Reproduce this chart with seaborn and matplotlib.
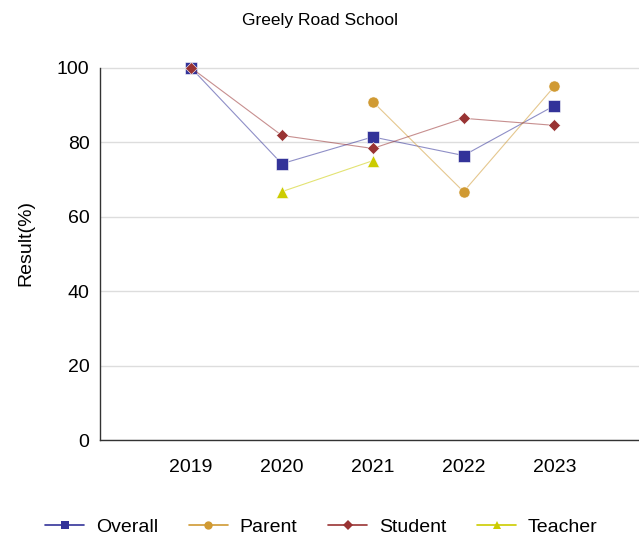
import numpy as np
import pandas as pd
import matplotlib
matplotlib.use("Agg")
import matplotlib.pyplot as plt
import seaborn as sns

years = ["2019", "2020", "2021", "2022", "2023"]
overall = [100, 74.2, 81.4, 76.4, 89.8]
parent = [np.nan, np.nan, 90.9, 66.7, 95.0]
student = [100, 81.8, 78.3, 86.4, 84.5]
teacher = [np.nan, 66.7, 75.0, np.nan, np.nan]

series = {"Overall": overall, "Parent": parent, "Student": student, "Teacher": teacher}
colors = {"Overall": "#333399", "Parent": "#D09A33", "Student": "#993333", "Teacher": "#CCCC00"}
markers = {"Overall": "s", "Parent": "o", "Student": "D", "Teacher": "^"}
msizes = {"Overall": 8, "Parent": 8, "Student": 6, "Teacher": 8}

sns.set_style("white")
plt.rcParams['font.family'] = ['Liberation Sans', 'DejaVu Sans']
plt.rcParams['text.color'] = 'black'
plt.rcParams['xtick.color'] = 'black'
plt.rcParams['ytick.color'] = 'black'
plt.rcParams['axes.labelcolor'] = 'black'

fig = plt.figure(figsize=(6.39, 5.37), dpi=100)
ax = fig.add_axes([0.1565, 0.1806, 0.8435, 0.735])

x = np.arange(len(years))
for name, vals in series.items():
    df = pd.DataFrame({"x": x, "y": vals}).dropna()
    sns.lineplot(data=df, x="x", y="y", ax=ax, color=colors[name], linewidth=0.8,
                 alpha=0.55, legend=False)
    ax.plot(df["x"], df["y"], linestyle="none", marker=markers[name], markersize=msizes[name],
            markerfacecolor=colors[name], markeredgecolor="white", markeredgewidth=0.4)

handles = [plt.Line2D([], [], color=colors[n], linewidth=1.2, marker=markers[n],
                      markersize=6 if n != "Student" else 5, markeredgewidth=0)
           for n in series]
fig.legend(handles, list(series.keys()), loc="lower center", ncol=4, frameon=False,
           fontsize=14, bbox_to_anchor=(0.503, -0.03), handlelength=2.0,
           handletextpad=0.6, columnspacing=1.6)

ax.set_xlim(-1, 4.93)
ax.set_ylim(0, 106)
ax.set_xticks([-1, 0, 1, 2, 3, 4])
ax.set_xticklabels([""] + years)
ax.set_yticks([0, 20, 40, 60, 80, 100])
ax.tick_params(axis="both", labelsize=14, direction="out", length=4, color="#333333")
ax.tick_params(axis="x", pad=10)
ax.grid(axis="y", color="#DDDDDD", linewidth=1)
ax.set_axisbelow(True)
for s in ["top", "right"]:
    ax.spines[s].set_visible(False)
for s in ["left", "bottom"]:
    ax.spines[s].set_color("#333333")
    ax.spines[s].set_linewidth(1)
ax.spines["left"].set_bounds(0, 100)
ax.set_xlabel("")
ax.set_ylabel("Result(%)", fontsize=14, labelpad=16)
fig.suptitle("Greely Road School", fontsize=12.5, y=0.975)

fig.savefig("out.png", dpi=100)
